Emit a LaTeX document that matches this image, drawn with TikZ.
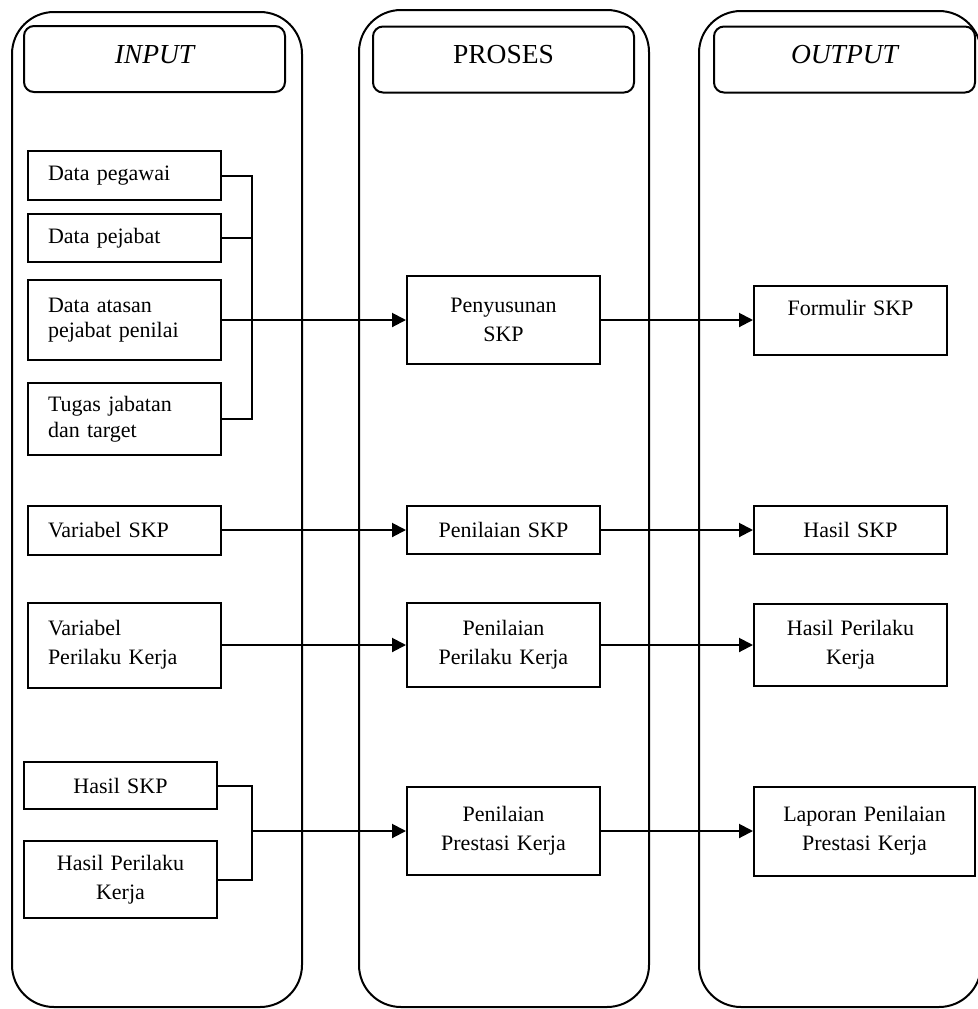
\documentclass[tikz,border=0pt]{standalone}
\usepackage{fontspec}
\setmainfont{Liberation Serif}
\usetikzlibrary{arrows.meta}

\begin{document}
\begin{tikzpicture}[x=0.5pt,y=-0.5pt,
  lane/.style={draw, line width=1pt, rounded corners=21pt},
  header/.style={draw, line width=1pt, rounded corners=5pt,
    minimum width=130.5pt, minimum height=33pt, inner sep=0pt,
    text depth=5pt, font=\fontsize{13.75}{16}\selectfont},
  box/.style={draw, line width=1pt, minimum width=96.5pt, inner sep=0pt,
    text width=92pt, align=center, font=\fontsize{11}{14.5}\selectfont},
  inbox/.style={box, text width=76.5pt, align=left},
  tight/.style={font=\fontsize{11}{12.75}\selectfont},
  flow/.style={line width=1pt, -{Triangle[length=7pt,width=7pt]}},
  link/.style={line width=1pt},
]
\useasboundingbox (0,0) rectangle (978,1009);
\clip (0,0) rectangle (978,1009);

% swimlanes
\draw[lane] (12,12) rectangle (302,1007);
\draw[lane] (359,10) rectangle (649,1007);
\draw[lane] (699,11) rectangle (981,1007);

% lane headers
\node[header] (hin)  at (154.5,59)   {\itshape INPUT};
\node[header] (hpr)  at (503.5,59.5) {PROSES};
\node[header] (hout) at (844.5,59.5) {\itshape OUTPUT};

% input column
\node[inbox, minimum height=24.5pt] (peg) at (124.5,175.5) {Data pegawai};
\node[inbox, minimum height=24pt]   (pej) at (124.5,238)   {Data pejabat};
\node[inbox, tight, minimum height=40pt] (ata) at (124.5,320) {Data atasan\\pejabat penilai};
\node[inbox, tight, minimum height=36pt] (tug) at (124.5,419) {Tugas jabatan\\dan target};
\node[inbox, minimum height=24.5pt] (vskp) at (124.5,530) {Variabel SKP};
\node[inbox, minimum height=42.5pt] (vpk)  at (124.5,645) {Variabel\\Perilaku Kerja};
\node[box, minimum height=23.5pt] (hskpin) at (120.5,785.5) {Hasil SKP};
\node[box, minimum height=38.5pt] (hpkin)  at (120.5,879.5) {Hasil Perilaku\\Kerja};

% process column
\node[box, minimum height=44pt] (pen)   at (503.5,320) {Penyusunan\\SKP};
\node[box, minimum height=24pt] (pskp)  at (503.5,530) {Penilaian SKP};
\node[box, minimum height=42pt] (ppk)   at (503.5,645) {Penilaian\\Perilaku Kerja};
\node[box, minimum height=44pt] (ppres) at (503.5,831) {Penilaian\\Prestasi Kerja};

% output column
\node[box, minimum height=34.5pt, text depth=12pt] (form) at (850.5,320) {Formulir SKP};
\node[box, minimum height=24pt] (hskp) at (850.5,530) {Hasil SKP};
\node[box, minimum height=41pt] (hpk)  at (850.5,645) {Hasil Perilaku\\Kerja};
\node[box, minimum width=110.5pt, text width=105pt, minimum height=44.5pt] (lap) at (864.5,831) {Laporan Penilaian\\Prestasi Kerja};

% bracket joining the data inputs
\coordinate (j1) at (252,320);
\draw[link] (peg.east) -| (j1);
\draw[link] (tug.east) -| (j1);
\draw[link] (pej.east) -- (pej.east -| j1);

% bracket joining the result inputs
\coordinate (j2) at (252,831);
\draw[link] (hskpin.east) -| (j2);
\draw[link] (hpkin.east) -| (j2);

% flows
\draw[flow] (ata.east) -- (pen.west);
\draw[flow] (pen.east) -- (form.west);
\draw[flow] (vskp.east) -- (pskp.west);
\draw[flow] (pskp.east) -- (hskp.west);
\draw[flow] (vpk.east) -- (ppk.west);
\draw[flow] (ppk.east) -- (hpk.west);
\draw[flow] (j2) -- (ppres.west);
\draw[flow] (ppres.east) -- (lap.west);
\end{tikzpicture}
\end{document}
